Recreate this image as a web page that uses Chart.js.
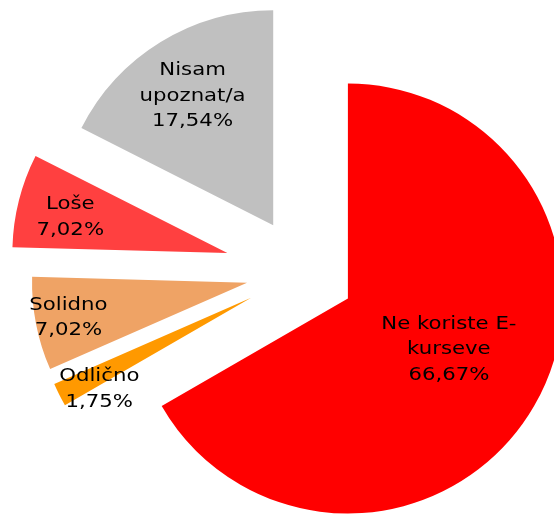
<!DOCTYPE html>
<html>
<head>
<meta charset="utf-8">
<script src="https://cdn.jsdelivr.net/npm/chart.js@4"></script>
<style>
  html, body { margin: 0; padding: 0; background: #fff; }
  #wrap { width: 554px; height: 515px; }
</style>
</head>
<body>
<div id="wrap"><canvas id="grafico"></canvas></div>
<script>
const kategorije = ['Ne koriste E-kurseve', 'Odlično', 'Solidno', 'Loše', 'Nisam upoznat/a'];
const procenti = [66.67, 1.75, 7.02, 7.02, 17.54];
const linijeNaziva = [['Ne koriste E-', 'kurseve'], ['Odlično'], ['Solidno'], ['Loše'], ['Nisam', 'upoznat/a']];
const boje = ['#ff0000', '#ff9900', '#efa365', '#ff4040', '#c0c0c0'];

// izvlačenje isečaka i položaj natpisa u odnosu na vrh isečka (px)
const izvlacenje = [53, 57, 56, 77, 55];
const udaljenostNatpisa = [112, 178, 182, 162, 154];
const pomakNatpisa = [[4, -5], [7, 11], [0, 0], [0, 4], [0, 2]];

const izvuciPlugin = {
  id: 'izvuci',
  afterDatasetUpdate(chart, args) {
    args.meta.data.forEach((arc, i) => {
      const ugao = (arc.startAngle + arc.endAngle) / 2;
      arc.x += Math.cos(ugao) * izvlacenje[i];
      arc.y += Math.sin(ugao) * izvlacenje[i];
    });
  }
};

const natpisiPlugin = {
  id: 'natpisi',
  afterDatasetsDraw(chart) {
    const ctx = chart.ctx;
    const meta = chart.getDatasetMeta(0);
    ctx.save();
    ctx.font = '18px Verdana, "DejaVu Sans", sans-serif';
    ctx.fillStyle = '#000';
    ctx.textAlign = 'center';
    ctx.textBaseline = 'middle';
    meta.data.forEach((arc, i) => {
      const ugao = (arc.startAngle + arc.endAngle) / 2;
      const x = arc.x + Math.cos(ugao) * udaljenostNatpisa[i] + pomakNatpisa[i][0];
      const y = arc.y + Math.sin(ugao) * udaljenostNatpisa[i] + pomakNatpisa[i][1];
      const linije = [...linijeNaziva[i], procenti[i].toFixed(2).replace('.', ',') + '%'];
      const visina = 25.5;
      linije.forEach((l, k) => {
        const ly = y + (k - (linije.length - 1) / 2) * visina;
        ctx.save();
        ctx.translate(x, ly);
        ctx.scale(1.18, 1);
        ctx.fillText(l, 0, 0);
        ctx.restore();
      });
    });
    ctx.restore();
  }
};

new Chart(document.getElementById('grafico'), {
  type: 'pie',
  data: {
    labels: kategorije,
    datasets: [{
      data: procenti,
      backgroundColor: boje,
      borderWidth: 0,
      clip: false
    }]
  },
  options: {
    responsive: true,
    maintainAspectRatio: false,
    animation: false,
    radius: 215,
    layout: { padding: { left: 87, right: 37, top: 57, bottom: 28 } },
    plugins: {
      legend: { display: false },
      tooltip: { enabled: false }
    }
  },
  plugins: [izvuciPlugin, natpisiPlugin]
});
</script>
</body>
</html>
